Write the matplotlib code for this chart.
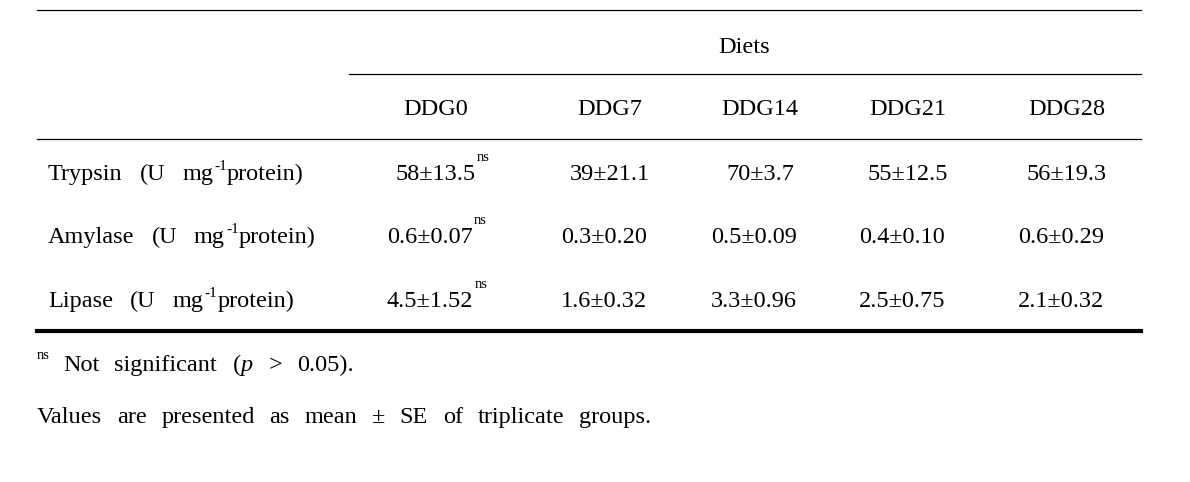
import matplotlib
matplotlib.use("Agg")
import matplotlib.pyplot as plt

plt.rcParams["font.family"] = ["Liberation Serif", "DejaVu Serif"]
plt.rcParams["mathtext.fontset"] = "custom"
plt.rcParams["mathtext.rm"] = "Liberation Serif"
plt.rcParams["mathtext.it"] = "Liberation Serif:italic"

# table data
diets = ["DDG0", "DDG7", "DDG14", "DDG21", "DDG28"]
enzymes = ["Trypsin", "Amylase", "Lipase"]
means = [[58, 39, 70, 55, 56],
         [0.6, 0.3, 0.5, 0.4, 0.6],
         [4.5, 1.6, 3.3, 2.5, 2.1]]
ses = [[13.5, 21.1, 3.7, 12.5, 19.3],
       [0.07, 0.20, 0.09, 0.10, 0.29],
       [1.52, 0.32, 0.96, 0.75, 0.32]]
fmts = ["{:.0f}±{:.1f}", "{:.1f}±{:.2f}", "{:.1f}±{:.2f}"]
note_ns = ["Not", "significant", "($p$", ">", "0.05)."]
note_se = ["Values", "are", "presented", "as", "mean", "±", "SE", "of", "triplicate", "groups."]

# layout (pixels)
fs = 17.5
col_x = [430, 604, 754, 902, 1061]
row_y = [180, 243, 307]
row_dx = [6, 0, 0]
x0, x1 = 37, 1141

fig = plt.figure(figsize=(11.9, 4.82), dpi=100)
ax = fig.add_axes([0, 0, 1, 1])
ax.set_xlim(0, 1190)
ax.set_ylim(482, 0)
ax.axis("off")
r = fig.canvas.get_renderer()
inv = ax.transData.inverted()


def right_edge(t):
    bb = t.get_window_extent(r)
    return inv.transform((bb.x1, bb.y1))[0]


def words(x, y, items, gap, size=fs):
    for w in items:
        t = ax.text(x, y, w, fontsize=size, ha="left", va="baseline")
        x = right_edge(t) + gap
    return x - gap


# rules
ax.plot([x0, x1], [10, 10], color="black", lw=0.9)
ax.plot([349, x1], [74, 74], color="black", lw=0.9)
ax.plot([x0, x1], [139, 139], color="black", lw=0.9)
ax.plot([x0, x1], [331, 331], color="black", lw=3)

ax.text(744, 53, "Diets", fontsize=fs, ha="center", va="baseline")
for x, d in zip(col_x, diets):
    ax.text(x + 6, 115, d, fontsize=fs, ha="center", va="baseline")

for i, name in enumerate(enzymes):
    y = row_y[i]
    xe = words(48, y, [name, "(U", "mg"], 17)
    t = ax.text(xe + 1, y - 10, "-1", fontsize=11, ha="left", va="baseline")
    ax.text(right_edge(t), y, "protein)", fontsize=fs, ha="left", va="baseline")
    for j in range(len(diets)):
        t = ax.text(col_x[j] + row_dx[i], y, fmts[i].format(means[i][j], ses[i][j]),
                    fontsize=fs, ha="center", va="baseline")
        if j == 0:
            # "ns" after first column values
            ax.text(right_edge(t) + 1, y - 19, "ns", fontsize=10.5, ha="left", va="baseline")

ax.text(37, 359, "ns", fontsize=10.5, ha="left", va="baseline")
words(63, 371, note_ns, 15)
words(37, 423, note_se, 14.7)

plt.savefig("out.png", dpi=100)
